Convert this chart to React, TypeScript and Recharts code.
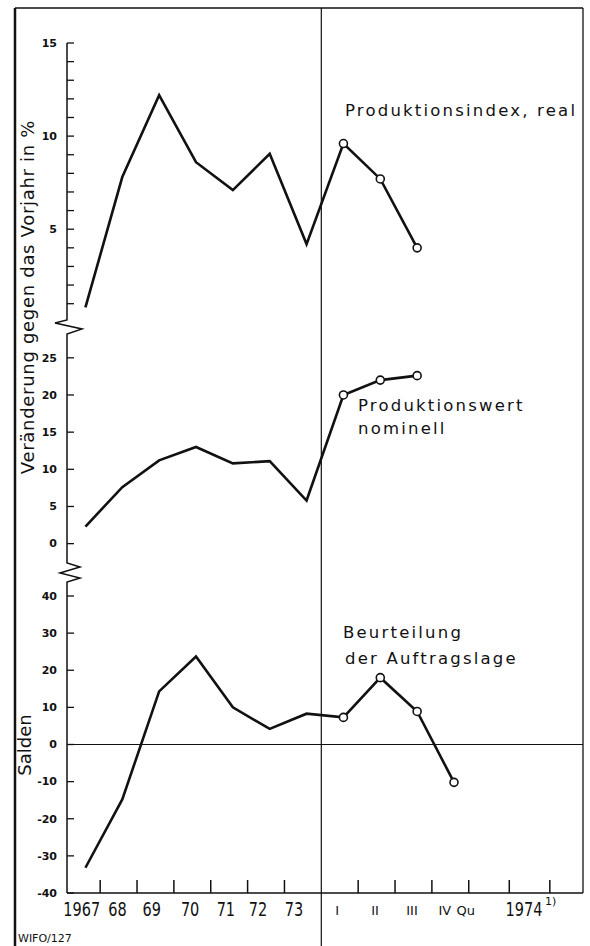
import { LineChart, Line, XAxis, YAxis, ReferenceLine } from "recharts";

// x positions: 0..6 = 1967..1973, 7..10 = quarters I..IV 1974
const X_POS = [0, 1, 2, 3, 4, 5, 6, 7, 8, 9, 10];
const REAL = [0.8, 7.8, 12.2, 8.6, 7.1, 9.05, 4.2, 9.6, 7.7, 4.0];
const NOMINAL = [2.3, 7.6, 11.2, 13.0, 10.8, 11.1, 5.8, 20.0, 22.0, 22.6];
const SALDEN = [-33.2, -14.8, 14.3, 23.7, 10.0, 4.2, 8.3, 7.3, 18.0, 8.9, -10.2];

const TOP_TICKS = [1, 2, 3, 4, 5, 6, 7, 8, 9, 10, 11, 12, 13, 14, 15];
const TOP_LABELLED = [5, 10, 15];
const MID_TICKS = [0, 5, 10, 15, 20, 25];
const BOT_TICKS = [-40, -30, -20, -10, 0, 10, 20, 30, 40];

const X_LABELS = ["1967", "68", "69", "70", "71", "72", "73", "I", "II", "III", "IV", "Qu", "1974"];
const X_LABEL_POS = [-0.1, 0.87, 1.8, 2.84, 3.81, 4.68, 5.66, 6.83, 7.86, 8.86, 9.75, 10.32, 11.9];
const X_BOUNDARIES = [0.4, 1.4, 2.4, 3.4, 4.4, 5.4, 7.4, 8.4, 9.4, 10.4, 11.5, 12.6];
const SEPARATOR = 6.4;

const X_DOMAIN: [number, number] = [-0.5, 13.5];
const PLOT_LEFT = 67;
const PLOT_RIGHT = 583;
const W = 590;
const H = 946;
const INK = "#111";
const FONT = "'DejaVu Sans', sans-serif";

const xPx = (v: number) =>
  PLOT_LEFT + ((v - X_DOMAIN[0]) / (X_DOMAIN[1] - X_DOMAIN[0])) * (PLOT_RIGHT - PLOT_LEFT);

const rows = (vals: number[]) => vals.map((v, i) => ({ x: X_POS[i], v }));

function YTick(props: any) {
  const { x, y, payload, labelled } = props;
  const show = !labelled || labelled.includes(payload.value);
  return (
    <g>
      <line x1={x} x2={x + 7} y1={y} y2={y} stroke={INK} strokeWidth={1.3} />
      {show && (
        <text
          x={x - 10}
          y={y}
          dy="0.35em"
          textAnchor="end"
          fontFamily={FONT}
          fontWeight="bold"
          fontSize={11}
          fill={INK}
        >
          {payload.value}
        </text>
      )}
    </g>
  );
}

function XTick(props: any) {
  const { x, y, payload } = props;
  const v = payload.value;
  if (X_BOUNDARIES.includes(v)) {
    return <line x1={x} x2={x} y1={y} y2={y - 13} stroke={INK} strokeWidth={1.5} />;
  }
  const i = X_LABEL_POS.indexOf(v);
  if (i < 0) return <g />;
  const label = X_LABELS[i];
  const roman = i >= 7 && i <= 11;
  if (roman) {
    return (
      <text x={x} y={y + 22} textAnchor="middle" fontFamily={FONT} fontSize={13} fill={INK}>
        {label}
      </text>
    );
  }
  return (
    <g>
      <text
        transform={`translate(${x},${y + 23}) scale(1,1.3)`}
        textAnchor="middle"
        fontFamily={FONT}
        fontSize={14.5}
        fill={INK}
      >
        {label}
      </text>
      {label === "1974" && (
        <text x={x + 21} y={y + 12} fontFamily={FONT} fontSize={11} fill={INK}>
          1)
        </text>
      )}
    </g>
  );
}

function QuarterDot(props: any) {
  const { cx, cy, index } = props;
  if (index < 7) return <g key={`d${index}`} />;
  return <circle key={`d${index}`} cx={cx} cy={cy} r={4} fill="#fff" stroke={INK} strokeWidth={1.6} />;
}

const yAxisCommon = {
  width: 50,
  tickSize: 0,
  tickMargin: 0,
  tickLine: false,
  interval: 0 as const,
  axisLine: { stroke: INK, strokeWidth: 1.5 },
};

const labelStyle = { fontFamily: FONT, fontSize: 16.5, letterSpacing: 2.2, fill: INK };

export default function App() {
  const topData = rows(REAL);
  const midData = rows(NOMINAL);
  const botData = rows(SALDEN);
  const sepX = xPx(SEPARATOR);

  return (
    <div style={{ position: "absolute", left: 0, top: 0, width: W, height: H, background: "#fff", overflow: "hidden" }}>
      <div style={{ position: "absolute", left: 0, top: 0 }}>
        <LineChart width={W} height={330} data={topData} margin={{ top: 43, right: W - PLOT_RIGHT, bottom: 17, left: PLOT_LEFT - 50 }}>
          <XAxis dataKey="x" type="number" domain={X_DOMAIN} hide />
          <YAxis
            {...yAxisCommon}
            type="number"
            domain={[0.5, 15]}
            ticks={TOP_TICKS}
            tick={<YTick labelled={TOP_LABELLED} />}
          />
          <Line type="linear" dataKey="v" stroke={INK} strokeWidth={2.6} dot={QuarterDot} activeDot={false} isAnimationActive={false} />
        </LineChart>
      </div>

      <div style={{ position: "absolute", left: 0, top: 320 }}>
        <LineChart width={W} height={250} data={midData} margin={{ top: 17, right: W - PLOT_RIGHT, bottom: 10, left: PLOT_LEFT - 50 }}>
          <XAxis dataKey="x" type="number" domain={X_DOMAIN} hide />
          <YAxis {...yAxisCommon} type="number" domain={[-2.2, 27.8]} ticks={MID_TICKS} tick={<YTick />} />
          <Line type="linear" dataKey="v" stroke={INK} strokeWidth={2.6} dot={QuarterDot} activeDot={false} isAnimationActive={false} />
        </LineChart>
      </div>

      <div style={{ position: "absolute", left: 0, top: 570 }}>
        <LineChart width={W} height={376} data={botData} margin={{ top: 13, right: W - PLOT_RIGHT, bottom: 0, left: PLOT_LEFT - 50 }}>
          <XAxis
            dataKey="x"
            type="number"
            domain={X_DOMAIN}
            ticks={[...X_BOUNDARIES, ...X_LABEL_POS]}
            interval={0}
            height={53}
            tickSize={0}
            tickMargin={0}
            tickLine={false}
            axisLine={{ stroke: INK, strokeWidth: 1.5 }}
            tick={<XTick />}
          />
          <YAxis {...yAxisCommon} type="number" domain={[-40, 43.5]} ticks={BOT_TICKS} tick={<YTick />} />
          <ReferenceLine y={0} stroke={INK} strokeWidth={1.1} />
          <Line type="linear" dataKey="v" stroke={INK} strokeWidth={2.6} dot={QuarterDot} activeDot={false} isAnimationActive={false} />
        </LineChart>
      </div>

      <svg width={W} height={H} style={{ position: "absolute", left: 0, top: 0, pointerEvents: "none" }}>
        {/* frame and separator */}
        <line x1={15} x2={15} y1={8} y2={H} stroke={INK} strokeWidth={2.5} />
        <line x1={15} x2={PLOT_RIGHT} y1={8} y2={8} stroke={INK} strokeWidth={1.5} />
        <line x1={PLOT_RIGHT} x2={PLOT_RIGHT} y1={8} y2={893} stroke={INK} strokeWidth={1.3} />
        <line x1={sepX} x2={sepX} y1={8} y2={H} stroke={INK} strokeWidth={1.2} />

        {/* axis breaks */}
        <polyline
          points={`${PLOT_LEFT},313 ${PLOT_LEFT},320 55,323 82,329 ${PLOT_LEFT},334 ${PLOT_LEFT},337`}
          fill="none"
          stroke={INK}
          strokeWidth={1.5}
        />
        <polyline
          points={`${PLOT_LEFT},560 ${PLOT_LEFT},563 80,567 60,573 80,578 ${PLOT_LEFT},582 ${PLOT_LEFT},583`}
          fill="none"
          stroke={INK}
          strokeWidth={1.5}
        />

        {/* axis titles */}
        <text
          transform="translate(34,297) rotate(-90)"
          textAnchor="middle"
          fontFamily={FONT}
          fontSize={18}
          letterSpacing={0.7}
          fill={INK}
        >
          Veränderung gegen das Vorjahr in %
        </text>
        <text transform="translate(31,745) rotate(-90)" textAnchor="middle" fontFamily={FONT} fontSize={18} fill={INK}>
          Salden
        </text>

        {/* series labels */}
        <g style={labelStyle}>
          <text x={345} y={116}>Produktionsindex, real</text>
          <text x={358} y={411}>Produktionswert</text>
          <text x={358} y={434}>nominell</text>
          <text x={343} y={638}>Beurteilung</text>
          <text x={345} y={664}>der Auftragslage</text>
        </g>

        <text x={18} y={942} fontFamily={FONT} fontSize={11} fill={INK}>
          WIFO/127
        </text>
      </svg>
    </div>
  );
}
